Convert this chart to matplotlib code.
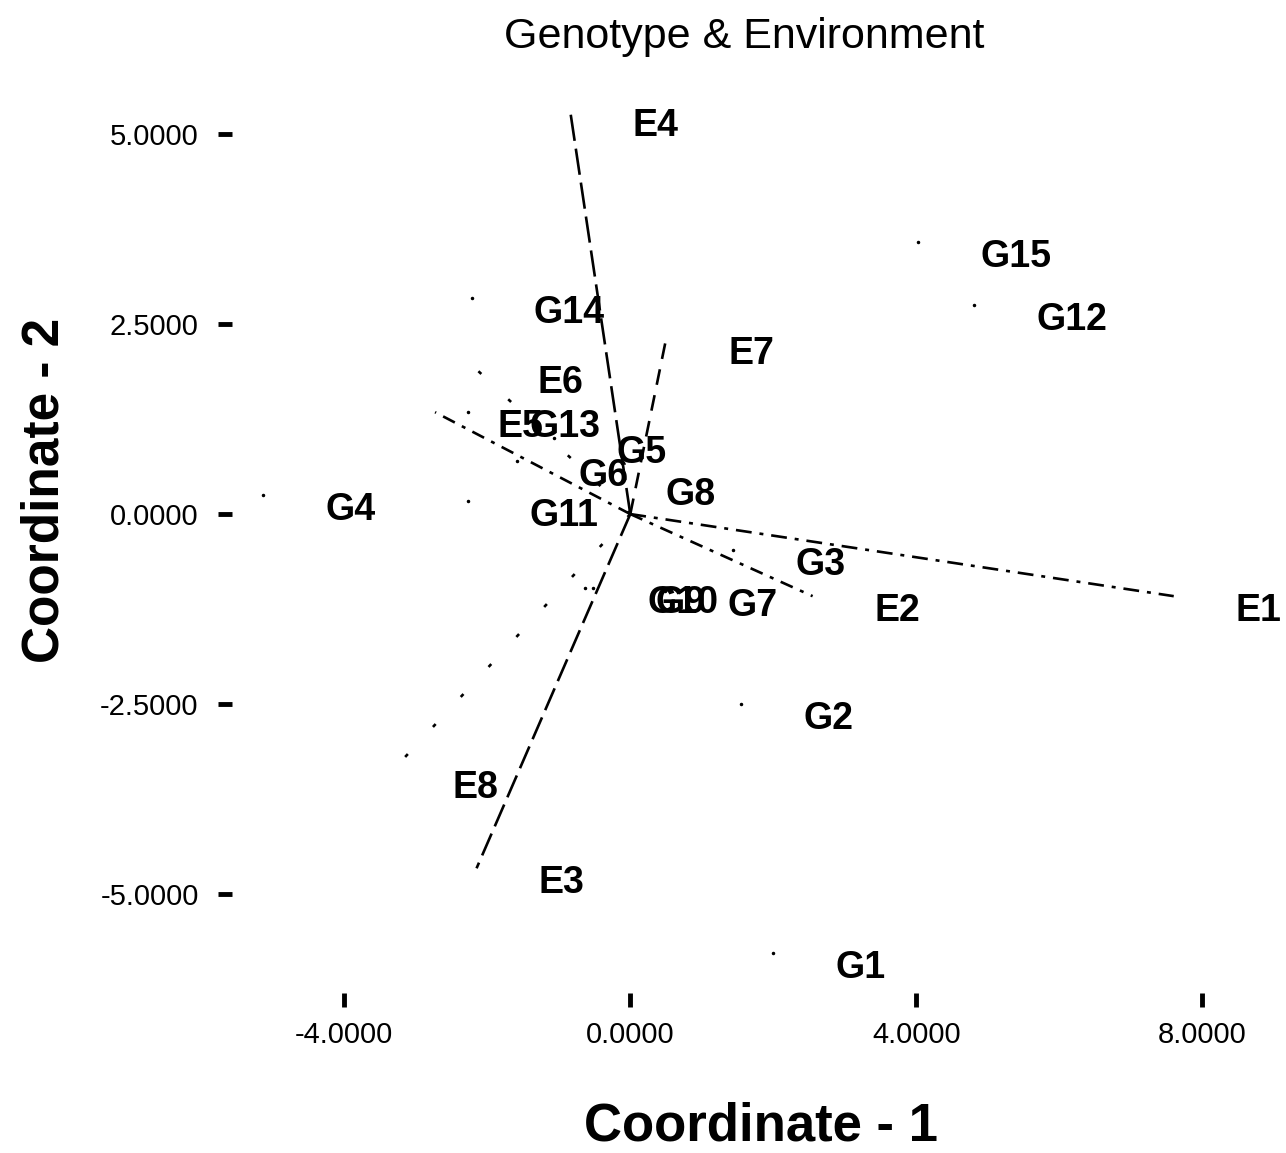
import matplotlib.pyplot as plt

# genotype scores (coordinate 1, coordinate 2)
genotypes = ['G1', 'G2', 'G3', 'G4', 'G5', 'G6', 'G7', 'G8', 'G9', 'G10',
             'G11', 'G12', 'G13', 'G14', 'G15']
g_x = [2.00, 1.55, 1.44, -5.13, -1.06, -1.59, 0.49, -0.38, -0.52, -0.63,
       -2.27, 4.81, -2.27, -2.22, 4.03]
g_y = [-5.78, -2.50, -0.47, 0.25, 1.00, 0.70, -1.01, 0.45, -0.97, -0.97,
       0.17, 2.75, 1.34, 2.84, 3.58]

# environment scores
environments = ['E1', 'E2', 'E3', 'E4', 'E5', 'E6', 'E7', 'E8']
e_x = [7.60, 2.55, -2.15, -0.84, -2.73, -2.17, 0.50, -3.36]
e_y = [-1.08, -1.08, -4.66, 5.30, 1.34, 1.92, 2.30, -3.41]

x_ticks = [-4, 0, 4, 8]
y_ticks = [-5, -2.5, 0, 2.5, 5]

line_styles = {
    'E1': (0, (6, 3, 1.5, 3)),
    'E2': (0, (5, 3, 1.5, 3)),
    'E3': (0, (9, 3)),
    'E4': (0, (10, 3)),
    'E5': (0, (5, 3, 1.5, 3)),
    'E6': (0, (1.5, 14)),
    'E7': (0, (6, 4)),
    'E8': (0, (1.5, 14)),
}

plt.rcParams['font.family'] = ['Liberation Sans', 'DejaVu Sans']

fig = plt.figure(figsize=(12.86, 11.53), dpi=100)
ax = fig.add_axes([0.1804, 0.1388, 0.8196, 0.7918])

# environment vectors from the origin
for name, x, y in zip(environments, e_x, e_y):
    ax.plot([0, x], [0, y], color='black', lw=1.9, ls=line_styles[name])

ax.plot(g_x, g_y, ls='none', marker='.', ms=3, color='black')

for name, x, y in zip(genotypes + environments, g_x + e_x, g_y + e_y):
    ax.annotate(name, (x, y), xytext=(62, -15), textcoords='offset pixels',
                ha='left', va='center', fontsize=27, fontweight='bold')

ax.set_xlim(-5.57, 9.17)
ax.set_ylim(-6.30, 5.71)
ax.set_xticks(x_ticks)
ax.set_xticklabels(['%.4f' % v for v in x_ticks])
ax.set_yticks(y_ticks)
ax.set_yticklabels(['%.4f' % v for v in y_ticks])
ax.tick_params(axis='both', direction='out', length=10, width=3.5, labelsize=21)
ax.tick_params(axis='y', pad=14)
ax.tick_params(axis='x', pad=10)
for s in ax.spines.values():
    s.set_visible(False)

fig.text(0.579, 0.968, 'Genotype & Environment', ha='center', va='center', fontsize=31)
fig.text(0.035, 0.575, 'Coordinate - 2', ha='center', va='center', rotation=90,
         fontsize=37, fontweight='bold')
fig.text(0.592, 0.0226, 'Coordinate - 1', ha='center', va='center',
         fontsize=38, fontweight='bold')

plt.savefig('out.png', dpi=100)
